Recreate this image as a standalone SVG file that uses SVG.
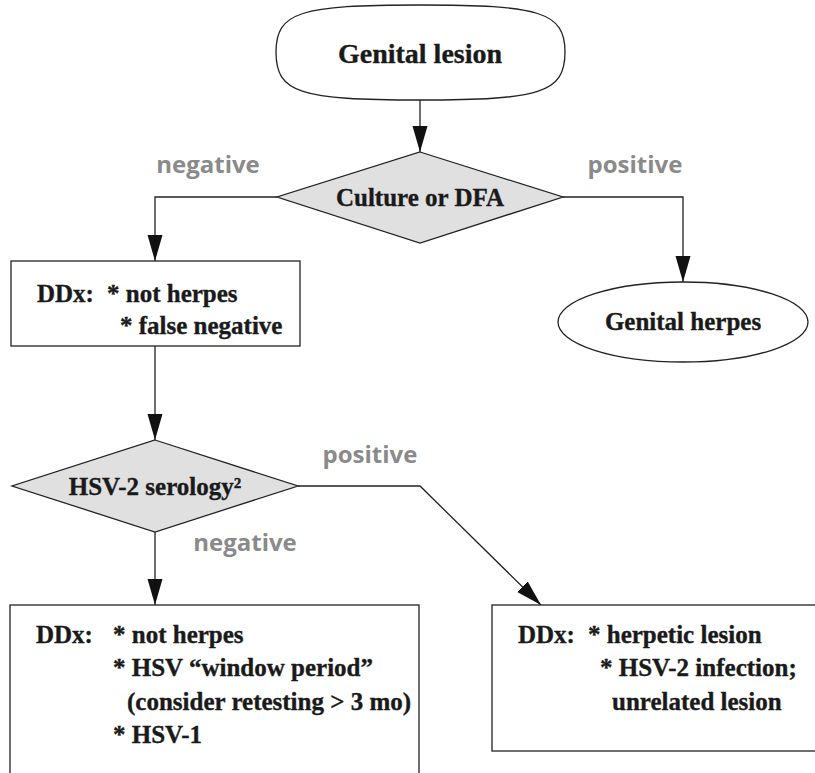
<svg xmlns="http://www.w3.org/2000/svg" width="815" height="773" viewBox="0 0 815 773">
<style>
.shape{fill:#fff;stroke:#222;stroke-width:1.3}
.dia{fill:#e0e0e0;stroke:#222;stroke-width:1.3}
.t{font-family:"Liberation Serif","Times New Roman",serif;font-weight:bold;fill:#1a1a1a;stroke:#1a1a1a;stroke-width:0.35;font-size:25px}
.big{font-size:28px}
.lbl{font-family:"Open Sans","Noto Sans",sans-serif;font-weight:700;fill:#8a8a8a;font-size:24px}
.c{fill:none;stroke:#222;stroke-width:1.3}
</style>
<defs>
<marker id="ah" markerWidth="26" markerHeight="16" refX="26" refY="7.5" viewBox="0 0 26 15" orient="auto" markerUnits="userSpaceOnUse">
<path d="M0,0 L26,7.5 L0,15 Z" fill="#111"/>
</marker>
</defs>
<rect width="815" height="773" fill="#fff"/>
<g id="connectors">
<path class="c" d="M420,100 L420,152" marker-end="url(#ah)"/>
<path class="c" d="M277,197 L155,197 L155,261" marker-end="url(#ah)"/>
<path class="c" d="M563,197 L683,197 L683,282" marker-end="url(#ah)"/>
<path class="c" d="M155,346 L155,440" marker-end="url(#ah)"/>
<path class="c" d="M298,486 L420,486 L541,605" marker-end="url(#ah)"/>
<path class="c" d="M155,532 L155,605" marker-end="url(#ah)"/>
<text class="lbl" x="208" y="173" text-anchor="middle">negative</text>
<text class="lbl" x="635" y="173" text-anchor="middle">positive</text>
<text class="lbl" x="370" y="463" text-anchor="middle">positive</text>
<text class="lbl" x="245" y="551" text-anchor="middle">negative</text>
</g>
<g id="start">
<path class="shape" d="M420,5 C540,5 565,12 565,52 C565,93 540,100 420,100 C300,100 276,93 276,52 C276,12 300,5 420,5 Z"/>
<text class="t big" x="420" y="63" text-anchor="middle">Genital lesion</text>
</g>
<g id="culture">
<polygon class="dia" points="420,152 563,197 420,243 277,197"/>
<text class="t" x="420" y="206" text-anchor="middle">Culture or DFA</text>
</g>
<g id="ddx1">
<rect class="shape" x="11" y="261" width="289" height="85"/>
<text class="t" x="37" y="302">DDx:</text>
<text class="t" x="107" y="302">* not herpes</text>
<text class="t" x="120" y="334">* false negative</text>
</g>
<g id="herpes">
<ellipse class="shape" cx="683" cy="322" rx="125" ry="40"/>
<text class="t" x="683" y="330" text-anchor="middle">Genital herpes</text>
</g>
<g id="serology">
<polygon class="dia" points="155,440 298,486 155,532 12,486"/>
<text class="t" x="155" y="495" text-anchor="middle">HSV-2 serology²</text>
</g>
<g id="ddx2">
<rect class="shape" x="10" y="605" width="409" height="180"/>
<text class="t" x="36" y="643">DDx:</text>
<text class="t" x="113" y="643">* not herpes</text>
<text class="t" x="113" y="676">* HSV “window period”</text>
<text class="t" x="127" y="710">(consider retesting &gt; 3 mo)</text>
<text class="t" x="113" y="743">* HSV-1</text>
</g>
<g id="ddx3">
<rect class="shape" x="492" y="605" width="340" height="146"/>
<text class="t" x="518" y="643">DDx:</text>
<text class="t" x="588" y="643">* herpetic lesion</text>
<text class="t" x="600" y="676">* HSV-2 infection;</text>
<text class="t" x="612" y="710">unrelated lesion</text>
</g>
</svg>
